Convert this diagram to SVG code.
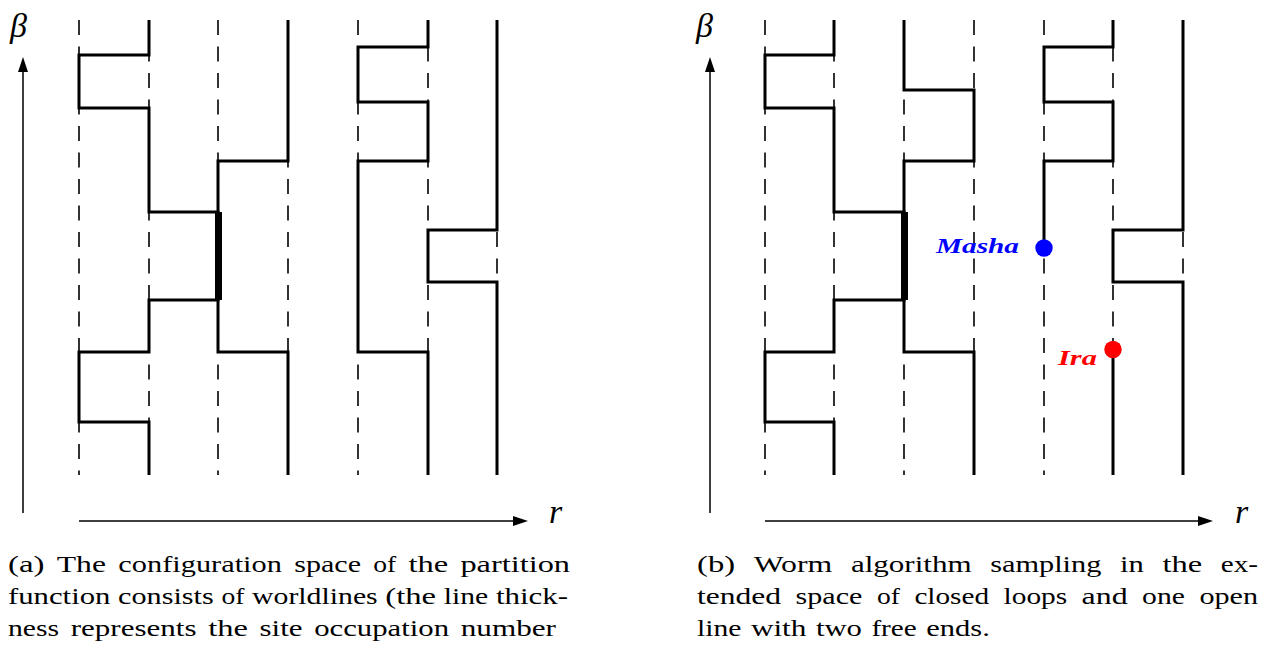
<svg xmlns="http://www.w3.org/2000/svg" width="1268" height="652" viewBox="0 0 1268 652">
<defs>
<style>
.site{stroke:#000;stroke-width:1.6;stroke-dasharray:15 11.5;fill:none}
.wl{stroke:#000;stroke-width:3;fill:none;stroke-linejoin:miter;stroke-linecap:butt}
.thick{stroke:#000;stroke-width:7;fill:none}
.axis{stroke:#000;stroke-width:1.5;fill:none}
.ah{fill:#000}
.sym{font-family:'Liberation Serif','DejaVu Serif',serif;font-style:italic;font-size:34px;fill:#000}
.cap{font-family:'Liberation Serif','DejaVu Serif',serif;font-size:23px;fill:#000}
.lbl{font-family:'Liberation Serif','DejaVu Serif',serif;font-style:italic;font-weight:bold;font-size:22px}
</style>
</defs>
<rect x="0" y="0" width="1268" height="652" fill="#fff"/>

<!-- Panel (a) -->
<g id="panel-a">
  <g id="a-sites">
    <line class="site" x1="79" y1="20" x2="79" y2="475"/>
    <line class="site" x1="149" y1="20" x2="149" y2="475"/>
    <line class="site" x1="218" y1="20" x2="218" y2="475"/>
    <line class="site" x1="288" y1="20" x2="288" y2="475"/>
    <line class="site" x1="358" y1="20" x2="358" y2="475"/>
    <line class="site" x1="428" y1="20" x2="428" y2="475"/>
    <line class="site" x1="497" y1="20" x2="497" y2="475"/>
  </g>
  <g id="a-axes">
    <line class="axis" x1="23" y1="513" x2="23" y2="70"/>
    <polygon class="ah" points="23,57 18,72 28,72"/>
    <line class="axis" x1="79" y1="521" x2="515" y2="521"/>
    <polygon class="ah" points="528,521 513,516 513,526"/>
    <text class="sym" x="10" y="37">β</text>
    <text class="sym" x="549" y="523">r</text>
  </g>
  <g id="a-worldlines">
    <path id="a-wl1" class="wl" d="M149,20 V55 H79 V108 H149 V212 H218 V300 H149 V352 H79 V422 H149 V475"/>
    <path id="a-wl2" class="wl" d="M288,20 V161 H218 V352 H288 V475"/>
    <line id="a-double" class="thick" x1="218.5" y1="212" x2="218.5" y2="300"/>
    <path id="a-wl3" class="wl" d="M428,20 V47 H358 V102 H428 V161 H358 V352 H428 V475"/>
    <path id="a-wl4" class="wl" d="M497,20 V230 H428 V282 H497 V475"/>
  </g>
  <g id="a-caption" class="cap">
    <text y="572"><tspan x="8" textLength="36.5" lengthAdjust="spacingAndGlyphs">(a)</tspan> <tspan x="56.8" textLength="49.2" lengthAdjust="spacingAndGlyphs">The</tspan> <tspan x="118.3" textLength="163.6" lengthAdjust="spacingAndGlyphs">configuration</tspan> <tspan x="294.2" textLength="66.8" lengthAdjust="spacingAndGlyphs">space</tspan> <tspan x="373.2" textLength="23" lengthAdjust="spacingAndGlyphs">of</tspan> <tspan x="408.5" textLength="39.7" lengthAdjust="spacingAndGlyphs">the</tspan> <tspan x="460.4" textLength="109.6" lengthAdjust="spacingAndGlyphs">partition</tspan></text>
    <text y="604"><tspan x="8" textLength="102.4" lengthAdjust="spacingAndGlyphs">function</tspan> <tspan x="118.1" textLength="95.6" lengthAdjust="spacingAndGlyphs">consists</tspan> <tspan x="221.4" textLength="23" lengthAdjust="spacingAndGlyphs">of</tspan> <tspan x="252.1" textLength="125.6" lengthAdjust="spacingAndGlyphs">worldlines</tspan> <tspan x="385.3" textLength="50.8" lengthAdjust="spacingAndGlyphs">(the</tspan> <tspan x="443.8" textLength="44.4" lengthAdjust="spacingAndGlyphs">line</tspan> <tspan x="495.9" textLength="72.2" lengthAdjust="spacingAndGlyphs">thick-</tspan></text>
    <text y="636"><tspan x="8" textLength="51.1" lengthAdjust="spacingAndGlyphs">ness</tspan> <tspan x="70.7" textLength="125.8" lengthAdjust="spacingAndGlyphs">represents</tspan> <tspan x="208.2" textLength="39.7" lengthAdjust="spacingAndGlyphs">the</tspan> <tspan x="259.5" textLength="43" lengthAdjust="spacingAndGlyphs">site</tspan> <tspan x="314.2" textLength="134.9" lengthAdjust="spacingAndGlyphs">occupation</tspan> <tspan x="460.7" textLength="95.3" lengthAdjust="spacingAndGlyphs">number</tspan></text>
  </g>
</g>

<!-- Panel (b) -->
<g id="panel-b">
  <g id="b-sites">
    <line class="site" x1="765" y1="20" x2="765" y2="475"/>
    <line class="site" x1="834" y1="20" x2="834" y2="475"/>
    <line class="site" x1="904" y1="20" x2="904" y2="475"/>
    <line class="site" x1="974" y1="20" x2="974" y2="475"/>
    <line class="site" x1="1044" y1="20" x2="1044" y2="475"/>
    <line class="site" x1="1113" y1="20" x2="1113" y2="475"/>
    <line class="site" x1="1183" y1="20" x2="1183" y2="475"/>
  </g>
  <g id="b-axes">
    <line class="axis" x1="710" y1="513" x2="710" y2="70"/>
    <polygon class="ah" points="710,57 705,72 715,72"/>
    <line class="axis" x1="765" y1="521" x2="1200" y2="521"/>
    <polygon class="ah" points="1213,521 1198,516 1198,526"/>
    <text class="sym" x="696" y="37">β</text>
    <text class="sym" x="1235" y="523">r</text>
  </g>
  <g id="b-worldlines">
    <path id="b-wl1" class="wl" d="M834,20 V55 H765 V108 H834 V212 H904 V300 H834 V352 H765 V422 H834 V475"/>
    <path id="b-wl2" class="wl" d="M904,20 V90 H974 V161 H904 V352 H974 V475"/>
    <line id="b-double" class="thick" x1="904.5" y1="212" x2="904.5" y2="300"/>
    <path id="b-worm-upper" class="wl" d="M1113,20 V47 H1044 V102 H1113 V161 H1044 V248"/>
    <path id="b-worm-lower" class="wl" d="M1113,349 V475"/>
    <path id="b-wl4" class="wl" d="M1183,20 V230 H1113 V282 H1183 V475"/>
  </g>
  <g id="masha">
    <circle cx="1044" cy="248" r="8.7" fill="#0000ff"/>
    <text class="lbl" x="936" y="253" fill="#0000ff" textLength="83" lengthAdjust="spacingAndGlyphs">Masha</text>
  </g>
  <g id="ira">
    <circle cx="1113" cy="349.5" r="8.7" fill="#ff0000"/>
    <text class="lbl" x="1058" y="365" fill="#ff0000" textLength="39" lengthAdjust="spacingAndGlyphs">Ira</text>
  </g>
  <g id="b-caption" class="cap">
    <text y="572"><tspan x="697" textLength="38.1" lengthAdjust="spacingAndGlyphs">(b)</tspan> <tspan x="753.7" textLength="78.6" lengthAdjust="spacingAndGlyphs">Worm</tspan> <tspan x="850.9" textLength="120.7" lengthAdjust="spacingAndGlyphs">algorithm</tspan> <tspan x="990.2" textLength="111.2" lengthAdjust="spacingAndGlyphs">sampling</tspan> <tspan x="1120" textLength="23.8" lengthAdjust="spacingAndGlyphs">in</tspan> <tspan x="1162.4" textLength="39.7" lengthAdjust="spacingAndGlyphs">the</tspan> <tspan x="1220.7" textLength="37.3" lengthAdjust="spacingAndGlyphs">ex-</tspan></text>
    <text y="604"><tspan x="697" textLength="84.1" lengthAdjust="spacingAndGlyphs">tended</tspan> <tspan x="795.6" textLength="66.8" lengthAdjust="spacingAndGlyphs">space</tspan> <tspan x="876.9" textLength="23" lengthAdjust="spacingAndGlyphs">of</tspan> <tspan x="914.4" textLength="74.7" lengthAdjust="spacingAndGlyphs">closed</tspan> <tspan x="1003.6" textLength="63.6" lengthAdjust="spacingAndGlyphs">loops</tspan> <tspan x="1081.6" textLength="46" lengthAdjust="spacingAndGlyphs">and</tspan> <tspan x="1142.1" textLength="42.8" lengthAdjust="spacingAndGlyphs">one</tspan> <tspan x="1199.4" textLength="58.7" lengthAdjust="spacingAndGlyphs">open</tspan></text>
    <text y="636"><tspan x="697" textLength="44.4" lengthAdjust="spacingAndGlyphs">line</tspan> <tspan x="750.9" textLength="55.5" lengthAdjust="spacingAndGlyphs">with</tspan> <tspan x="815.9" textLength="46" lengthAdjust="spacingAndGlyphs">two</tspan> <tspan x="871.4" textLength="45.3" lengthAdjust="spacingAndGlyphs">free</tspan> <tspan x="926.2" textLength="63.6" lengthAdjust="spacingAndGlyphs">ends.</tspan></text>
  </g>
</g>
</svg>
